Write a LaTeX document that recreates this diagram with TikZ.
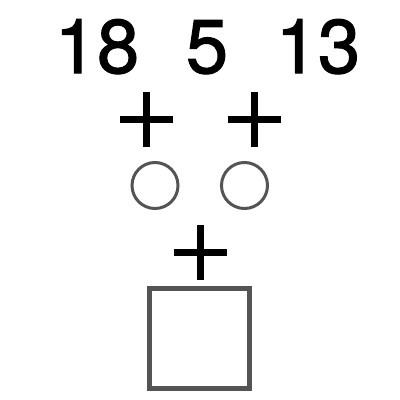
\documentclass[tikz,border=0pt]{standalone}
\usepackage{fontspec}
\setmainfont{TeX Gyre Heros}
\newfontfamily\numfont[FakeBold=1.5]{TeX Gyre Heros}
\begin{document}
\begin{tikzpicture}[x=1pt,y=-1pt,
  num/.style={font=\numfont\fontsize{76}{76}\selectfont, anchor=base, inner sep=0pt},
  plusbar/.style={line width=7pt, black},
  ring/.style={draw=black!67, line width=3pt, circle, minimum size=46pt, inner sep=0pt},
  boxsq/.style={draw=black!67, line width=5pt, minimum size=100pt, inner sep=0pt}]
\useasboundingbox (0,0) rectangle (400,400);
\node[num] (n1) at (97,73) {18};
\node[num] (n2) at (207,73) {5};
\node[num] (n3) at (318,73) {13};
\coordinate (p1) at (146,119);
\coordinate (p2) at (254,119);
\coordinate (p3) at (200,252);
\foreach \p in {p1,p2,p3}{
  \draw[plusbar] ([xshift=-26.5pt]\p) -- ([xshift=26.5pt]\p);
  \draw[plusbar] ([yshift=-27.5pt]\p) -- ([yshift=27.5pt]\p);
}
\node[ring] (c1) at (155,185.5) {};
\node[ring] (c2) at (244.5,185.5) {};
\node[boxsq] (sq) at (199.5,338) {};
\end{tikzpicture}
\end{document}
